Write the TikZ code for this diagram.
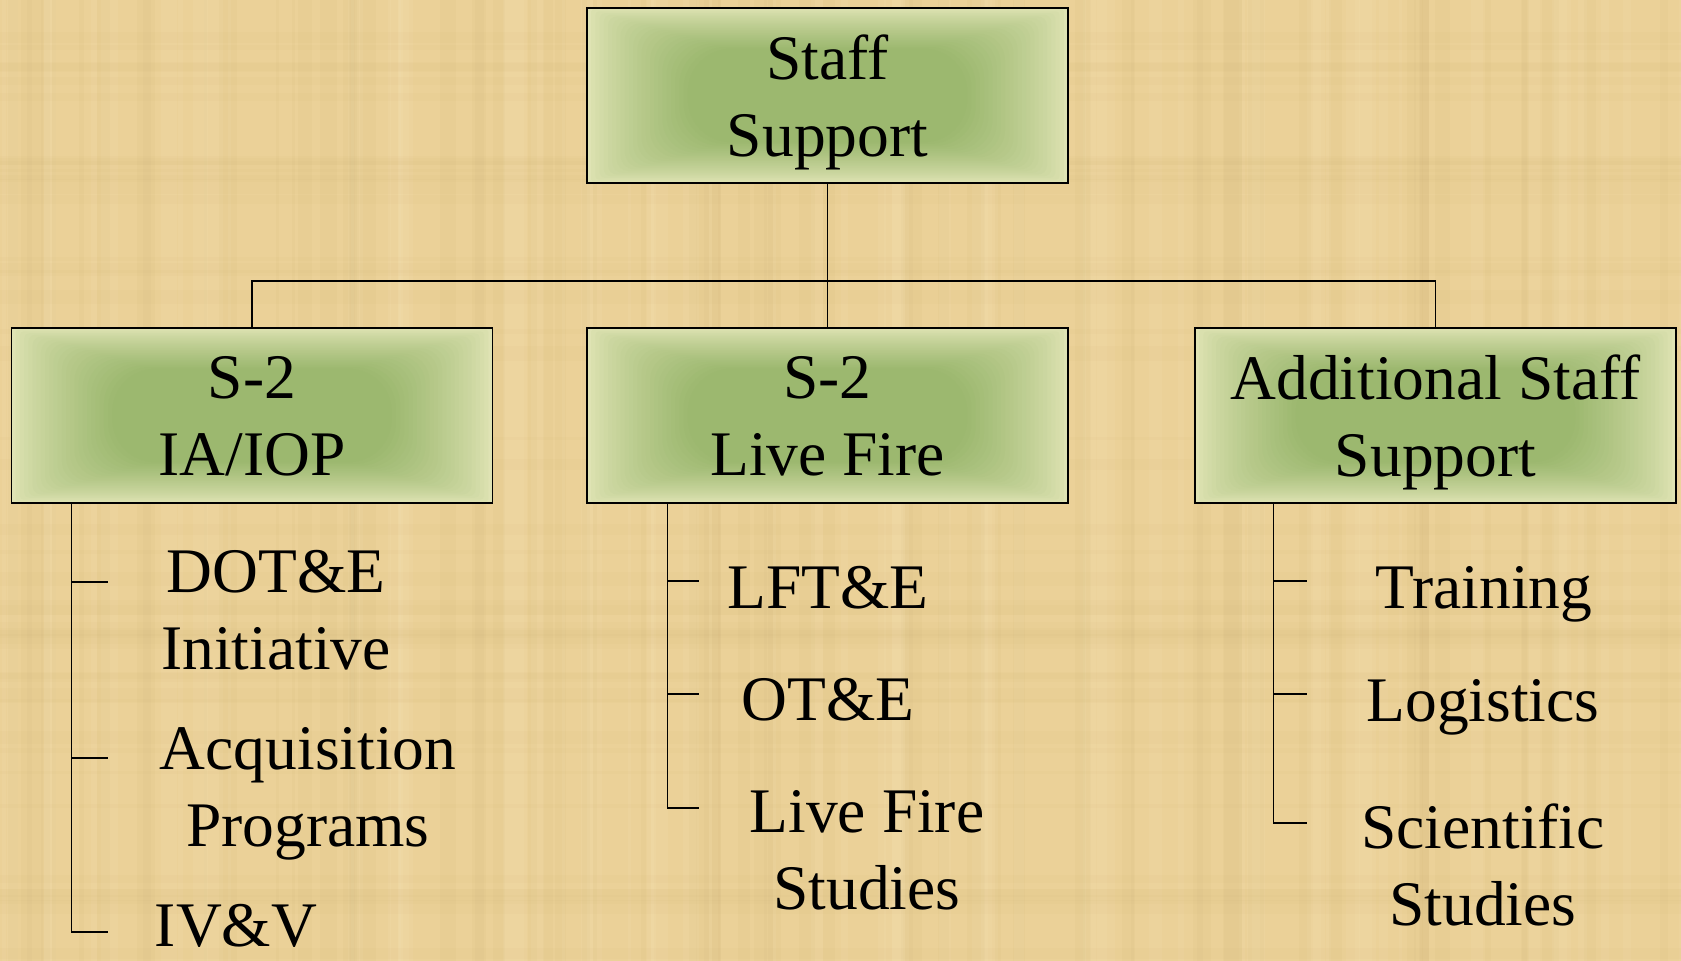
\documentclass[tikz,border=0pt]{standalone}
\usepackage{fontspec}
\setmainfont{Liberation Serif}
\usetikzlibrary{calc,positioning}

\definecolor{parchment}{HTML}{EBD198}
\definecolor{parchmentdark}{HTML}{CDB070}
\definecolor{parchmentlight}{HTML}{F6E6BC}
\definecolor{boxpale}{HTML}{DFE3B4}
\definecolor{boxgreen}{HTML}{9CB86F}

\tikzset{
  unitbox/.style={rectangle,draw=black,line width=0.8pt,
    minimum width=240.5pt,minimum height=87.5pt,inner sep=0pt,
    align=center,text depth=0pt,font=\fontsize{31.75}{38.5}\selectfont,
    path picture={
      % fondu rectangulaire, bord pale vers coeur vert
      \fill[boxpale] (path picture bounding box.south west) rectangle
        (path picture bounding box.north east);
      \foreach \i in {1,...,24}{
        \pgfmathtruncatemacro\mix{100-(\i/24)^0.8*100}
        \fill[boxpale!\mix!boxgreen,rounded corners=\i*0.9pt]
          ($(path picture bounding box.south west)+(\i*2.1pt,\i*0.85pt)$) rectangle
          ($(path picture bounding box.north east)-(\i*2.1pt,\i*0.85pt)$);
      }}},
  subunit/.style={inner sep=0pt,align=center,text depth=0pt,
    font=\fontsize{31.75}{38.5}\selectfont},
  wire/.style={line width=0.6pt}
}

\begin{document}
\begin{tikzpicture}[x=0.5pt,y=-0.5pt]
\useasboundingbox (0,0) rectangle (1681,961);
% fond parchemin
\fill[parchment] (0,0) rectangle (1681,961);
\pgfmathsetseed{4242}
\foreach \k in {1,...,70}{
  \pgfmathsetmacro\xa{rnd*1681}
  \pgfmathsetmacro\wd{3+rnd*16}
  \fill[parchmentdark,opacity=0.08] (\xa,0) rectangle ++(\wd,961);
  \pgfmathsetmacro\xb{rnd*1681}
  \fill[parchmentlight,opacity=0.12] (\xb,0) rectangle ++(\wd,961);
}
\foreach \k in {1,...,45}{
  \pgfmathsetmacro\ya{rnd*961}
  \pgfmathsetmacro\ht{3+rnd*12}
  \fill[parchmentdark,opacity=0.06] (0,\ya) rectangle ++(1681,\ht);
}

% boites
\node[unitbox] (staff) at (827.5,95.5) {Staff\\Support};
\node[unitbox] (iaiop) at (252,415.5) {S-2\\IA/IOP};
\node[unitbox] (livefire) at (827.5,415.5) {S-2\\Live Fire};
\node[unitbox] (addl) at (1435.5,415.5) {Additional Staff\\Support};

% liaisons
\coordinate (bus) at (827.5,281);
\draw[wire] (staff) -- (bus);
\draw[wire] (bus) -| (iaiop);
\draw[wire] (bus) -- (livefire);
\draw[wire] (bus) -| (addl);

% S-2 IA/IOP
\coordinate (iaroot) at ($(iaiop.south west)+(61,0)$);
\coordinate (ia1) at (108,582);
\coordinate (ia2) at (108,758);
\coordinate (ia3) at (108,932);
\draw[wire] (iaroot) |- (ia3);
\draw[wire] (iaroot |- ia1) -- (ia1);
\draw[wire] (iaroot |- ia2) -- (ia2);
\node[subunit] (dote) at (276,609.5) {DOT\&E\\Initiative};
\node[subunit] (acq) at (308,786.5) {Acquisition\\Programs};
\node[subunit] (ivv) at (236,925) {IV\&V};

% S-2 Live Fire
\coordinate (lfroot) at ($(livefire.south west)+(81,0)$);
\coordinate (lf1) at (699,581);
\coordinate (lf2) at (699,694);
\coordinate (lf3) at (699,808);
\draw[wire] (lfroot) |- (lf3);
\draw[wire] (lfroot |- lf1) -- (lf1);
\draw[wire] (lfroot |- lf2) -- (lf2);
\node[subunit] (lfte) at (828,587) {LFT\&E};
\node[subunit] (ote) at (828,699) {OT\&E};
\node[subunit] (lfstudies) at (867,850) {Live Fire\\Studies};

% Additional Staff Support
\coordinate (asroot) at ($(addl.south west)+(79,0)$);
\coordinate (as1) at (1307,581);
\coordinate (as2) at (1307,694);
\coordinate (as3) at (1307,823);
\draw[wire] (asroot) |- (as3);
\draw[wire] (asroot |- as1) -- (as1);
\draw[wire] (asroot |- as2) -- (as2);
\node[subunit] (train) at (1484,587) {Training};
\node[subunit] (logi) at (1483,700) {Logistics};
\node[subunit] (sci) at (1483,865) {Scientific\\Studies};
\end{tikzpicture}
\end{document}
